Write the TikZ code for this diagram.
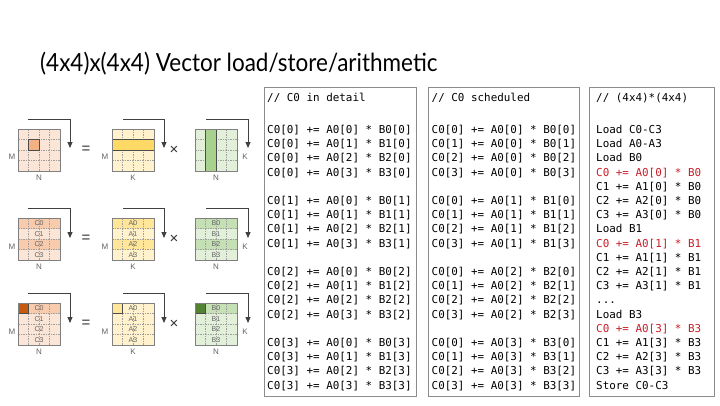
\documentclass[tikz,border=0pt]{standalone}
\usepackage{fontspec}
\setmainfont{Liberation Sans}
\newfontfamily\codefont{DejaVu Sans Mono}
\newfontfamily\titlefont{Lato}
\usetikzlibrary{arrows.meta}
\definecolor{Cl}{HTML}{FBE5D6}
\definecolor{Cm}{HTML}{F8CBAD}
\definecolor{Ch}{HTML}{F4B183}
\definecolor{Cd}{HTML}{C55A11}
\definecolor{Al}{HTML}{FFF2CC}
\definecolor{Am}{HTML}{FFE699}
\definecolor{Ah}{HTML}{FFD966}
\definecolor{Bl}{HTML}{E2F0D9}
\definecolor{Bm}{HTML}{C5E0B4}
\definecolor{Bh}{HTML}{A9D18E}
\definecolor{Bd}{HTML}{548235}
\definecolor{codered}{RGB}{200,30,40}
\definecolor{boxgray}{RGB}{140,140,140}
\definecolor{arrowgray}{RGB}{64,64,64}
\definecolor{lblgray}{RGB}{100,100,100}
\tikzset{
  gridl/.style={draw=gray!75, line width=0.5pt, dash pattern=on 1.5pt off 1pt},
  outerb/.style={draw=gray, line width=0.8pt},
  hib/.style={draw=black!70, line width=0.9pt},
  arr/.style={draw=arrowgray, line width=0.9pt, -{Triangle[length=6pt,width=5pt]}},
  axlbl/.style={font=\fontsize{8}{8}\selectfont, text=lblgray, inner sep=0},
  celllbl/.style={font=\fontsize{7}{7}\selectfont, text=lblgray, inner sep=0},
  opsym/.style={font=\fontsize{15}{15}\selectfont, text=black!80, inner sep=0},
  codebox/.style={draw=boxgray, line width=1.2pt, fill=white},
  codetxt/.style={font=\codefont\fontsize{10.9}{14.2}\selectfont, align=left, inner sep=0, anchor=north west},
}
\newcommand\gridlines{%
  \foreach \k in {10.5,21,31.5}{\draw[gridl] (\k,0)--(\k,42); \draw[gridl] (0,\k)--(42,\k);}}
\begin{document}
\begin{tikzpicture}[x=1pt,y=-1pt]
\useasboundingbox (0,0) rectangle (720,405);
\fill[white] (0,0) rectangle (720,405);

% title
\node[anchor=base west, inner sep=0] (title) at (40,71)
  {\scalebox{0.90}[1]{\titlefont\fontsize{25}{25}\selectfont (4x4)x(4x4) Vector load/store/arithmetic}};

% ================= Row 1 =================
\begin{scope}[shift={(18,129)}]
  \fill[Cl] (0,0) rectangle (42,42); \gridlines
  \filldraw[fill=Ch, hib] (10.5,10.5) rectangle (21,21);
  \draw[outerb] (0,0) rectangle (42,42);
\end{scope}
\begin{scope}[shift={(112,129)}]
  \fill[Al] (0,0) rectangle (42,42); \gridlines
  \filldraw[fill=Ah, hib] (0,10.5) rectangle (42,21);
  \draw[outerb] (0,0) rectangle (42,42);
\end{scope}
\begin{scope}[shift={(195,129)}]
  \fill[Bl] (0,0) rectangle (42,42); \gridlines
  \filldraw[fill=Bh, hib] (10.5,0) rectangle (21,42);
  \draw[outerb] (0,0) rectangle (42,42);
\end{scope}
\node[axlbl] (m1c) at (12,157) {M};
\node[axlbl] (n1c) at (39,178) {N};
\node[axlbl] (m1a) at (105,157) {M};
\node[axlbl] (k1a) at (133,178) {K};
\node[axlbl] (k1b) at (245,157) {K};
\node[axlbl] (n1b) at (216,178) {N};
\node[opsym] (eq1) at (86,150) {=};
\node[opsym] (x1) at (174,150) {×};
\coordinate (c1s) at (28,119); \coordinate (c1e) at (70,148);
\coordinate (a1s) at (123,119); \coordinate (a1e) at (164,148);
\coordinate (b1s) at (206,119); \coordinate (b1e) at (248,148);
\draw[arr] (c1s) -| (c1e);
\draw[arr] (a1s) -| (a1e);
\draw[arr] (b1s) -| (b1e);

% ================= Row 2 =================
\begin{scope}[shift={(18,218)}]
  \fill[Cm] (0,0) rectangle (42,10.5); \fill[Cl] (0,10.5) rectangle (42,21);
  \fill[Cm] (0,21) rectangle (42,31.5); \fill[Cl] (0,31.5) rectangle (42,42);
  \gridlines
  \draw[outerb] (0,0) rectangle (42,42);
  \node[celllbl] (lc0) at (21,5.25) {C0};
  \node[celllbl] (lc1) at (21,15.75) {C1};
  \node[celllbl] (lc2) at (21,26.25) {C2};
  \node[celllbl] (lc3) at (21,36.75) {C3};
\end{scope}
\begin{scope}[shift={(112,218)}]
  \fill[Am] (0,0) rectangle (42,10.5); \fill[Al] (0,10.5) rectangle (42,21);
  \fill[Am] (0,21) rectangle (42,31.5); \fill[Al] (0,31.5) rectangle (42,42);
  \gridlines
  \draw[outerb] (0,0) rectangle (42,42);
  \node[celllbl] (la0) at (21,5.25) {A0};
  \node[celllbl] (la1) at (21,15.75) {A1};
  \node[celllbl] (la2) at (21,26.25) {A2};
  \node[celllbl] (la3) at (21,36.75) {A3};
\end{scope}
\begin{scope}[shift={(195,218)}]
  \fill[Bm] (0,0) rectangle (42,10.5); \fill[Bl] (0,10.5) rectangle (42,21);
  \fill[Bm] (0,21) rectangle (42,31.5); \fill[Bl] (0,31.5) rectangle (42,42);
  \gridlines
  \draw[outerb] (0,0) rectangle (42,42);
  \node[celllbl] (lb0) at (21,5.25) {B0};
  \node[celllbl] (lb1) at (21,15.75) {B1};
  \node[celllbl] (lb2) at (21,26.25) {B2};
  \node[celllbl] (lb3) at (21,36.75) {B3};
\end{scope}
\node[axlbl] (m2c) at (12,247) {M};
\node[axlbl] (n2c) at (39,267) {N};
\node[axlbl] (m2a) at (105,247) {M};
\node[axlbl] (k2a) at (133,267) {K};
\node[axlbl] (k2b) at (245,247) {K};
\node[axlbl] (n2b) at (216,267) {N};
\node[opsym] (eq2) at (86,239) {=};
\node[opsym] (x2) at (174,239) {×};
\coordinate (c2s) at (28,208); \coordinate (c2e) at (70,238);
\coordinate (a2s) at (123,208); \coordinate (a2e) at (164,238);
\coordinate (b2s) at (206,208); \coordinate (b2e) at (248,238);
\draw[arr] (c2s) -| (c2e);
\draw[arr] (a2s) -| (a2e);
\draw[arr] (b2s) -| (b2e);

% ================= Row 3 =================
\begin{scope}[shift={(18,303)}]
  \fill[Cl] (0,0) rectangle (42,42);
  \fill[Cm] (0,0) rectangle (42,10.5);
  \gridlines
  \filldraw[fill=Cd, hib] (0,0) rectangle (10.5,10.5);
  \draw[outerb] (0,0) rectangle (42,42);
  \node[celllbl] (mc0) at (21,5.25) {C0};
  \node[celllbl] (mc1) at (21,15.75) {C1};
  \node[celllbl] (mc2) at (21,26.25) {C2};
  \node[celllbl] (mc3) at (21,36.75) {C3};
\end{scope}
\begin{scope}[shift={(112,303)}]
  \fill[Al] (0,0) rectangle (42,42);
  \gridlines
  \filldraw[fill=Am, hib] (0,0) rectangle (10.5,10.5);
  \draw[outerb] (0,0) rectangle (42,42);
  \node[celllbl] (ma0) at (21,5.25) {A0};
  \node[celllbl] (ma1) at (21,15.75) {A1};
  \node[celllbl] (ma2) at (21,26.25) {A2};
  \node[celllbl] (ma3) at (21,36.75) {A3};
\end{scope}
\begin{scope}[shift={(195,303)}]
  \fill[Bl] (0,0) rectangle (42,42);
  \fill[Bm] (0,0) rectangle (42,10.5);
  \gridlines
  \filldraw[fill=Bd, hib] (0,0) rectangle (10.5,10.5);
  \draw[outerb] (0,0) rectangle (42,42);
  \node[celllbl] (mb0) at (21,5.25) {B0};
  \node[celllbl] (mb1) at (21,15.75) {B1};
  \node[celllbl] (mb2) at (21,26.25) {B2};
  \node[celllbl] (mb3) at (21,36.75) {B3};
\end{scope}
\node[axlbl] (m3c) at (12,332) {M};
\node[axlbl] (n3c) at (39,352) {N};
\node[axlbl] (m3a) at (105,332) {M};
\node[axlbl] (k3a) at (133,352) {K};
\node[axlbl] (k3b) at (245,332) {K};
\node[axlbl] (n3b) at (216,352) {N};
\node[opsym] (eq3) at (86,324) {=};
\node[opsym] (x3) at (174,324) {×};
\coordinate (c3s) at (28,293); \coordinate (c3e) at (70,323);
\coordinate (a3s) at (123,293); \coordinate (a3e) at (164,323);
\coordinate (b3s) at (206,293); \coordinate (b3e) at (248,323);
\draw[arr] (c3s) -| (c3e);
\draw[arr] (a3s) -| (a3e);
\draw[arr] (b3s) -| (b3e);

% ================= Code boxes =================
\node[codebox, minimum width=152pt, minimum height=309pt, anchor=north west, inner sep=0] (box1) at (264,87) {};
\node[codebox, minimum width=151pt, minimum height=309pt, anchor=north west, inner sep=0] (box2) at (428,87) {};
\node[codebox, minimum width=125pt, minimum height=309pt, anchor=north west, inner sep=0] (box3) at (589,87) {};

\node[codetxt] (h1) at (267,93) {// C0 in detail};
\node[codetxt] (t1) at (267,125) {%
C0[0] += A0[0] * B0[0]\\ C0[0] += A0[1] * B1[0]\\ C0[0] += A0[2] * B2[0]\\ C0[0] += A0[3] * B3[0]\\[14.2pt]
C0[1] += A0[0] * B0[1]\\ C0[1] += A0[1] * B1[1]\\ C0[1] += A0[2] * B2[1]\\ C0[1] += A0[3] * B3[1]\\[14.2pt]
C0[2] += A0[0] * B0[2]\\ C0[2] += A0[1] * B1[2]\\ C0[2] += A0[2] * B2[2]\\ C0[2] += A0[3] * B3[2]\\[14.2pt]
C0[3] += A0[0] * B0[3]\\ C0[3] += A0[1] * B1[3]\\ C0[3] += A0[2] * B2[3]\\ C0[3] += A0[3] * B3[3]};

\node[codetxt] (h2) at (431.5,93) {// C0 scheduled};
\node[codetxt] (t2) at (431.5,125) {%
C0[0] += A0[0] * B0[0]\\ C0[1] += A0[0] * B0[1]\\ C0[2] += A0[0] * B0[2]\\ C0[3] += A0[0] * B0[3]\\[14.2pt]
C0[0] += A0[1] * B1[0]\\ C0[1] += A0[1] * B1[1]\\ C0[2] += A0[1] * B1[2]\\ C0[3] += A0[1] * B1[3]\\[14.2pt]
C0[0] += A0[2] * B2[0]\\ C0[1] += A0[2] * B2[1]\\ C0[2] += A0[2] * B2[2]\\ C0[3] += A0[2] * B2[3]\\[14.2pt]
C0[0] += A0[3] * B3[0]\\ C0[1] += A0[3] * B3[1]\\ C0[2] += A0[3] * B3[2]\\ C0[3] += A0[3] * B3[3]};

\node[codetxt] (h3) at (596,93) {// (4x4)*(4x4)};
\node[codetxt] (t3) at (596,125) {%
Load C0-C3\\ Load A0-A3\\ Load B0\\ \textcolor{codered}{C0 += A0[0] * B0}\\ C1 += A1[0] * B0\\ C2 += A2[0] * B0\\ C3 += A3[0] * B0\\
Load B1\\ \textcolor{codered}{C0 += A0[1] * B1}\\ C1 += A1[1] * B1\\ C2 += A2[1] * B1\\ C3 += A3[1] * B1\\
...\\ Load B3\\ \textcolor{codered}{C0 += A0[3] * B3}\\ C1 += A1[3] * B3\\ C2 += A2[3] * B3\\ C3 += A3[3] * B3\\ Store C0-C3};
\end{tikzpicture}
\end{document}
